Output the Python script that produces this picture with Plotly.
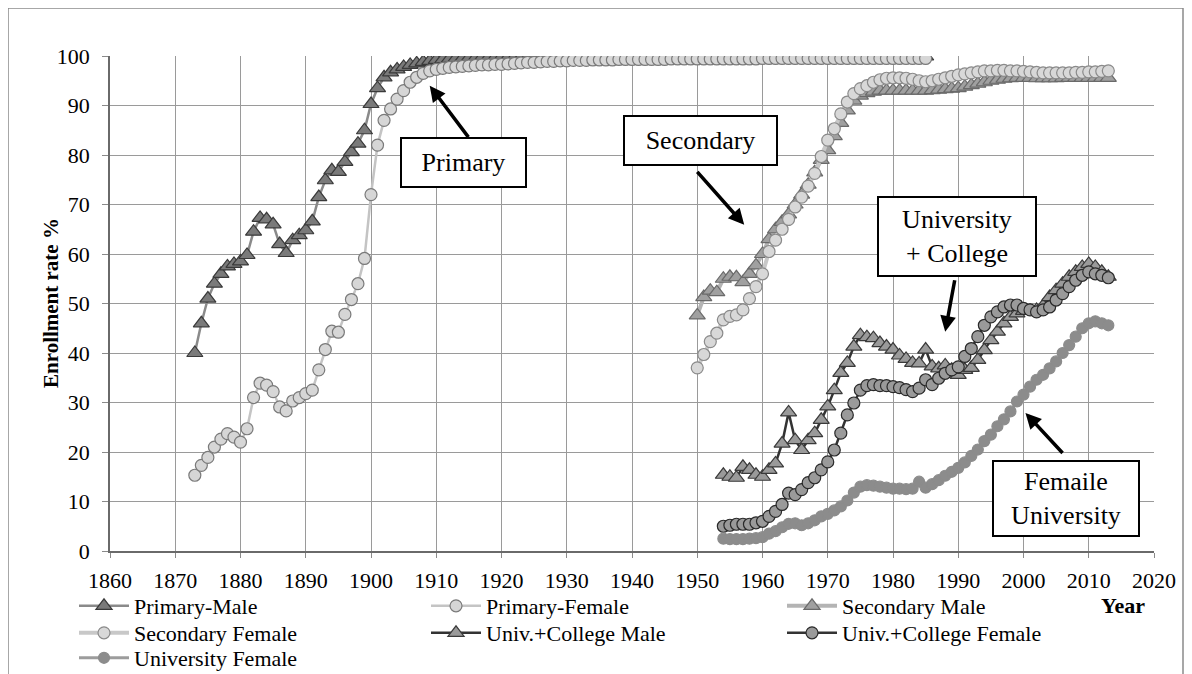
import plotly.graph_objects as go

# ---------------- data ----------------
primary_years = list(range(1873, 1986))
primary_male = [
    40, 46, 51, 54, 56, 57.5, 58, 58.5, 59.8, 64.5, 67.3, 67, 66, 62, 60.2, 62.8, 63.8,
    64.8, 66.6, 71.5, 74.9, 76.9, 76.6, 78.6, 80.6, 82.3, 85,
    90.3, 93.5, 95.7, 96.7, 97.3, 97.8, 98.2, 98.5, 98.8, 99,
    99.2, 99.3, 99.4, 99.5, 99.5, 99.6, 99.6, 99.7, 99.7, 99.7,
    99.8, 99.8, 99.8, 99.8, 99.8, 99.8, 99.8, 99.8, 99.8, 99.8,
    99.8, 99.8, 99.8, 99.8, 99.8, 99.8, 99.8, 99.8, 99.8, 99.8,
    99.9, 99.9, 99.9, 99.9, 99.9, 99.9, 99.9, 99.9, 99.9, 99.9,
    99.9, 99.9, 99.9, 99.9, 99.9, 99.9, 99.9, 99.9, 99.9, 99.9,
    99.9, 99.9, 99.9, 99.9, 99.9, 99.9, 99.9, 99.9, 99.9, 99.9,
    99.9, 99.9, 99.9, 99.9, 99.9, 99.9, 99.9, 99.9, 99.9, 99.9,
    99.9, 99.9, 99.9, 99.9, 99.9, 99.9,
]
primary_female = [
    15.3, 17.3, 18.9, 21, 22.6, 23.7, 23, 22, 24.7, 31, 33.9, 33.5, 32.2, 29.1, 28.3,
    30.3, 31, 31.8, 32.5, 36.6, 40.7, 44.4, 44.2, 47.8, 50.8, 54, 59.1,
    72, 82, 87, 89.3, 91.3, 93, 94.7, 95.7, 96.5, 97,
    97.3, 97.5, 97.7, 97.8, 97.9, 98, 98.1, 98.2, 98.2, 98.3,
    98.3, 98.4, 98.5, 98.6, 98.7, 98.7, 98.8, 98.9, 98.9, 99,
    99, 99.1, 99.1, 99.1, 99.2, 99.2, 99.2, 99.2, 99.3, 99.3,
    99.3, 99.3, 99.3, 99.3, 99.3, 99.3, 99.4, 99.4, 99.4, 99.4,
    99.4, 99.4, 99.4, 99.4, 99.4, 99.4, 99.4, 99.4, 99.4, 99.4,
    99.5, 99.5, 99.5, 99.5, 99.5, 99.5, 99.5, 99.5, 99.5, 99.5,
    99.5, 99.5, 99.5, 99.5, 99.5, 99.5, 99.5, 99.5, 99.5, 99.5,
    99.5, 99.5, 99.5, 99.5, 99.5, 99.5,
]

secondary_years = list(range(1950, 2014))
secondary_male = [
    47.6, 51.3, 52.6, 52.3, 55, 55.4, 55.3, 54.3, 56, 57.7,
    60, 63, 65, 66.5, 68, 70, 72, 74, 76.5, 79,
    81, 83.8, 86.5, 89, 91, 92, 92.5, 92.8, 93, 93,
    93, 93, 93, 93, 93, 93, 93.1, 93.2, 93.3, 93.4,
    93.5, 93.8, 94.1, 94.4, 94.7, 95, 95.2, 95.4, 95.5, 95.6,
    95.6, 95.6, 95.5, 95.5, 95.5, 95.5, 95.6, 95.6, 95.6, 95.6,
    95.6, 95.6, 95.6, 95.6,
]
secondary_female = [
    37, 39.7, 42.3, 44, 46.7, 47.4, 47.7, 48.7, 51, 53.4,
    56, 60.5, 62.8, 65, 67, 69.5, 71.5, 73.7, 76.3, 79.7,
    83, 85.3, 88.3, 90.7, 92.4, 93.4, 94, 94.7, 95.2, 95.5,
    95.6, 95.6, 95.5, 95.3, 95, 94.8, 95, 95.3, 95.6, 95.9,
    96.2, 96.4, 96.6, 96.8, 97, 97, 97.1, 97.1, 97, 97,
    96.9, 96.8, 96.7, 96.6, 96.6, 96.6, 96.6, 96.6, 96.7, 96.7,
    96.8, 96.8, 96.9, 97,
]

univ_years = list(range(1954, 2014))
univ_male = [
    15.4, 15, 14.8, 17, 16.4, 15.4, 15, 16.4, 17.7, 21.7,
    28, 22.4, 20.4, 22.4, 23.8, 26.5, 29.2, 32.5, 36, 38,
    41.3, 43.6, 43.2, 43, 42, 41.3, 40.7, 39.5, 38.8, 38,
    37.9, 40.7, 37.3, 36.9, 37.5, 36.6, 35.6, 36.6, 37, 38.6,
    40.6, 42.6, 44.3, 46, 47.3, 48, 48.5, 48.5, 48.7, 49.5,
    51.3, 52.7, 54, 55.4, 56.4, 57.4, 58, 57.4, 56.4, 55.4,
]
univ_female = [
    5, 5.2, 5.4, 5.4, 5.4, 5.7, 6, 7, 8, 9.4,
    11.7, 11.4, 12.4, 13.8, 14.8, 16.4, 18, 20.4, 23.8, 27.5,
    29.9, 32.5, 33.4, 33.6, 33.4, 33.4, 33.2, 33, 32.6, 32.2,
    32.9, 34.6, 33.6, 34.9, 35.9, 36.6, 37.2, 39.3, 40.9, 43.3,
    45.6, 47.3, 48.3, 49.3, 49.7, 49.7, 49, 48.7, 48.3, 48.7,
    49.3, 50.7, 52, 53.4, 54.7, 55.7, 56.4, 56, 55.7, 55.2,
]
university_female = [
    2.5, 2.4, 2.4, 2.4, 2.5, 2.6, 2.8, 3.5, 4, 4.8,
    5.5, 5.6, 5.2, 5.6, 6.2, 7, 7.5, 8.2, 9, 10.2,
    11.8, 13, 13.3, 13.2, 13, 12.8, 12.6, 12.6, 12.5, 12.6,
    14, 12.8, 13.5, 14.3, 15.2, 16, 16.8, 17.9, 19.2, 20.5,
    22.2, 23.5, 25.2, 26.6, 28.2, 30.2, 31.6, 33.2, 34.6, 35.6,
    36.9, 38.3, 40, 41.6, 43.3, 45, 46, 46.4, 46, 45.6,
]

x_ticks = list(range(1860, 2021, 10))
y_ticks = list(range(0, 101, 10))

FONT = "Liberation Serif"

# figure size (page body adds an 8px offset in the browser)
W, H = 1184, 666
OFF = 8
# plot area in screen pixels
L, R, T, B = 110 - OFF, 1154 - OFF, 56 - OFF, 551 - OFF

def px_x(sx):
    return (sx - OFF - L) / (R - L)

def px_y(sy):
    return (B - (sy - OFF)) / (B - T)

fig = go.Figure()

# (name, x, y, symbol, fill, outline, linecolor, width, size, column, row)
series = [
    ("Primary-Male", primary_years, primary_male, "triangle-up",
     "#7a7a7a", "#3a3a3a", "#8a8a8a", 2.5, 14, 0, 0),
    ("Primary-Female", primary_years, primary_female, "circle",
     "#d6d6d6", "#7a7a7a", "#c4c4c4", 2.5, 12, 1, 0),
    ("Secondary Male", secondary_years, secondary_male, "triangle-up",
     "#a0a0a0", "#6a6a6a", "#b4b4b4", 4, 14, 2, 0),
    ("Secondary Female", secondary_years, secondary_female, "circle",
     "#d8d8d8", "#8a8a8a", "#c8c8c8", 4, 12, 0, 1),
    ("Univ.+College Male", univ_years, univ_male, "triangle-up",
     "#9a9a9a", "#3a3a3a", "#333333", 2.5, 14, 1, 1),
    ("Univ.+College Female", univ_years, univ_female, "circle",
     "#9a9a9a", "#2a2a2a", "#333333", 2.5, 12, 2, 1),
    ("University Female", univ_years, university_female, "circle",
     "#8c8c8c", "#8c8c8c", "#9c9c9c", 3, 11, 0, 2),
]

col_x = [78, 430, 786]      # screen x of legend symbol start
row_y = [606, 633, 658]     # screen y of legend row centres

legends = {}
for i, (name, xs, ys, sym, fill, outl, lc, lw, sz, col, row) in enumerate(series):
    key = "legend" if i == 0 else f"legend{i + 1}"
    fig.add_trace(go.Scatter(
        x=xs, y=ys, name=name, mode="lines+markers", legend=key,
        line=dict(color=lc, width=lw),
        marker=dict(symbol=sym, size=sz, color=fill, line=dict(color=outl, width=1.2)),
    ))
    legends[key] = dict(
        x=(col_x[col] - 4 - OFF) / W, y=1 - (row_y[row] - OFF) / H,
        xref="container", yref="container", xanchor="left", yanchor="middle",
        orientation="v", bgcolor="rgba(0,0,0,0)", itemwidth=50,
        font=dict(family=FONT, size=22, color="black"), itemclick=False,
    )

boxes = [
    ("Primary", 1914.1, 78.4, 123, 47),
    ("Secondary", 1950.5, 83.0, 151, 47),
    ("University<br>+ College", 1989.8, 63.5, 156, 77),
    ("Femaile<br>University", 2006.5, 10.7, 144, 73),
]
arrows = [
    (1909.0, 94.0, 1915.1, 83.3),
    (1957.2, 65.9, 1949.8, 76.9),
    (1988.0, 44.3, 1989.5, 55.0),
    (2000.3, 27.9, 2006.2, 19.5),
]

annotations = []
for hx, hy, tx, ty in arrows:
    annotations.append(dict(
        x=hx, y=hy, ax=tx, ay=ty, xref="x", yref="y", axref="x", ayref="y",
        text="", showarrow=True, arrowhead=2, arrowsize=0.9, arrowwidth=3.5,
        arrowcolor="black",
    ))
for txt, bx, by, bw, bh in boxes:
    annotations.append(dict(
        x=bx, y=by, xref="x", yref="y", text=txt, showarrow=False,
        width=bw, height=bh, bgcolor="white", bordercolor="black",
        borderwidth=2, borderpad=0, align="center", valign="middle",
        font=dict(family=FONT, size=26, color="black"),
    ))
annotations.append(dict(
    x=px_x(1146), y=px_y(619), xref="paper", yref="paper", text="<b>Year</b>",
    showarrow=False, borderpad=0, font=dict(family=FONT, size=22, color="black"),
))
annotations.append(dict(
    x=px_x(37), y=px_y(303), xref="paper", yref="paper",
    text="<b>Enrollment rate %</b>", textangle=-90, showarrow=False,
    font=dict(family=FONT, size=21, color="black"),
))

fig.update_layout(
    width=W, height=H,
    margin=dict(l=L, r=W - R, t=T, b=H - B, autoexpand=False),
    paper_bgcolor="white", plot_bgcolor="white",
    font=dict(family=FONT, size=22, color="black"),
    showlegend=True,
    annotations=annotations,
    shapes=[dict(type="rect", xref="paper", yref="paper",
                 x0=px_x(8), x1=px_x(1183), y0=px_y(690), y1=px_y(8),
                 line=dict(color="#8a8a8a", width=1.5), layer="below")],
    **legends,
)
fig.update_xaxes(
    range=[1860, 2020], tickvals=x_ticks, ticktext=[str(v) for v in x_ticks],
    showgrid=True, gridcolor="#9a9a9a", gridwidth=1,
    showline=True, linecolor="#6a6a6a", linewidth=1.5,
    ticks="outside", ticklen=5, tickcolor="#8a8a8a",
    ticklabelstandoff=4, zeroline=False, automargin=False,
    tickfont=dict(family=FONT, size=22, color="black"),
)
fig.update_yaxes(
    range=[0, 100], tickvals=y_ticks, ticktext=[str(v) for v in y_ticks],
    showgrid=True, gridcolor="#9a9a9a", gridwidth=1,
    showline=True, linecolor="#6a6a6a", linewidth=1.5,
    ticks="outside", ticklen=6, tickcolor="#8a8a8a",
    ticklabelstandoff=8, zeroline=False, automargin=False,
    tickfont=dict(family=FONT, size=22, color="black"),
)

fig.write_html("out.html")
